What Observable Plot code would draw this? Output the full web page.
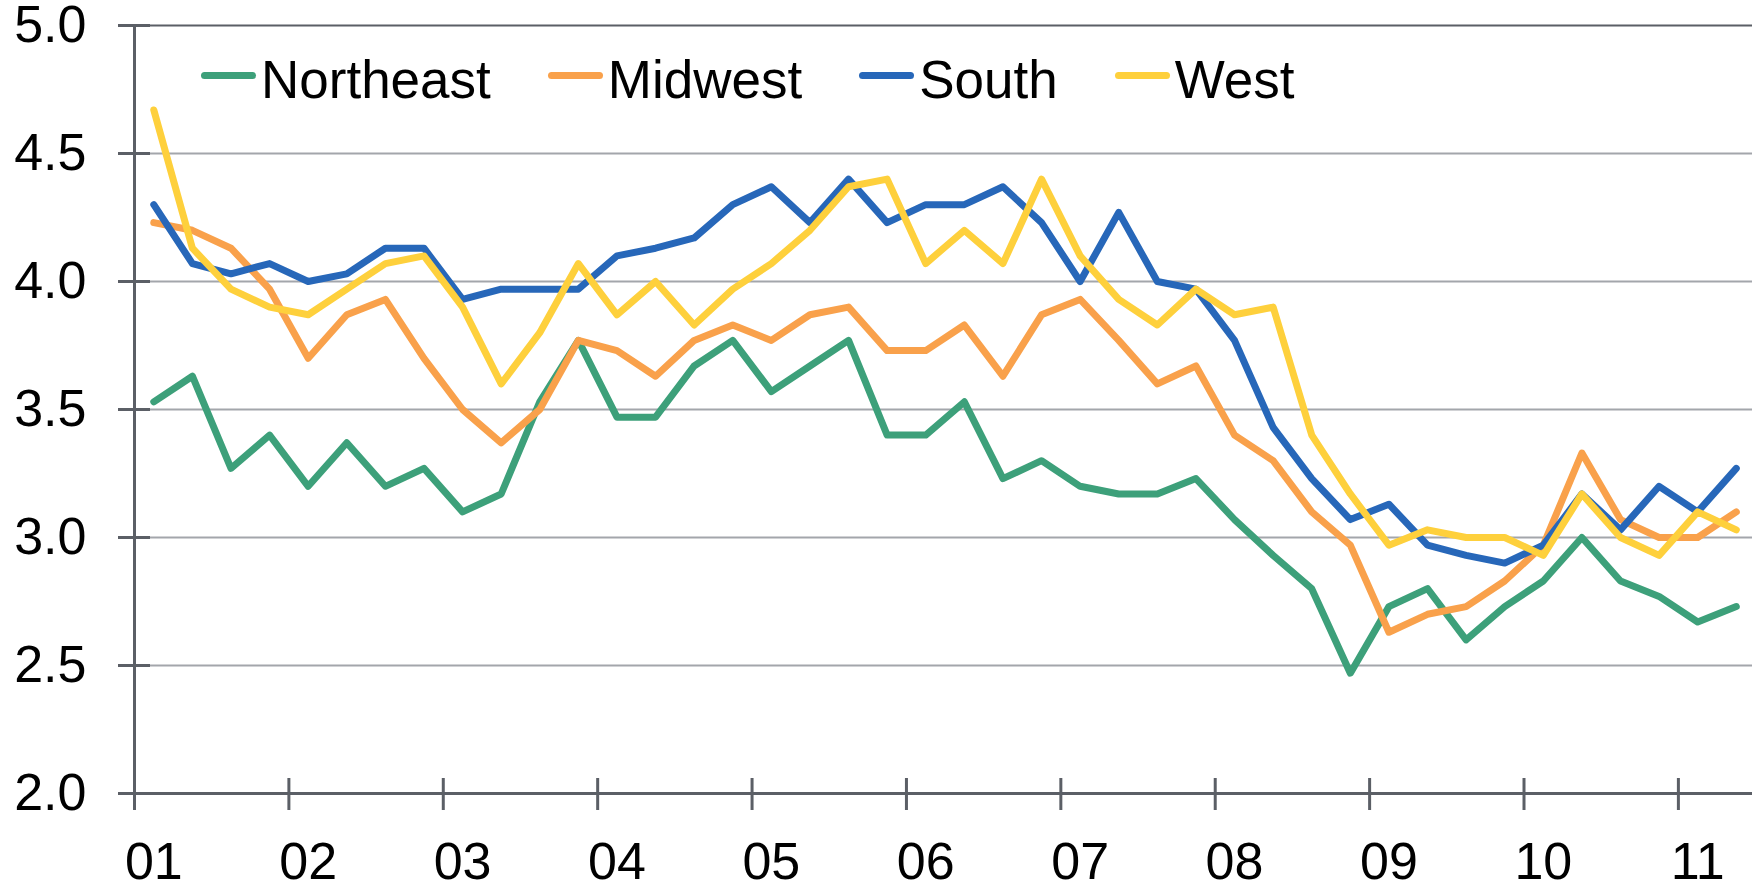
<!DOCTYPE html>
<html>
<head>
<meta charset="utf-8">
<script src="https://cdn.jsdelivr.net/npm/d3@7"></script>
<script src="https://cdn.jsdelivr.net/npm/@observablehq/plot@0.6"></script>
<style>
  html, body { margin: 0; padding: 0; background: #fff; }
  #wrap { position: relative; width: 1752px; height: 884px; font-family: "Liberation Sans", Arial, sans-serif; }
  #legend { position: absolute; left: 201px; top: 53px; display: flex; gap: 57px; font-size: 53px; line-height: 53px; color: #000; }
  .item { display: flex; align-items: flex-start; }
  .sw { width: 55px; height: 7px; border-radius: 3.5px; margin-top: 19px; margin-right: 5px; }
</style>
</head>
<body>
<div id="wrap"></div>
<script>
const regions = ["Northeast", "Midwest", "South", "West"];
const regionColors = ["#3DA07A", "#F9A14B", "#2767B9", "#FED03C"];

const quarters = [
  "2001Q1","2001Q2","2001Q3","2001Q4","2002Q1","2002Q2","2002Q3","2002Q4",
  "2003Q1","2003Q2","2003Q3","2003Q4","2004Q1","2004Q2","2004Q3","2004Q4",
  "2005Q1","2005Q2","2005Q3","2005Q4","2006Q1","2006Q2","2006Q3","2006Q4",
  "2007Q1","2007Q2","2007Q3","2007Q4","2008Q1","2008Q2","2008Q3","2008Q4",
  "2009Q1","2009Q2","2009Q3","2009Q4","2010Q1","2010Q2","2010Q3","2010Q4",
  "2011Q1","2011Q2"
];

const northeast = [3.53,3.63,3.27,3.40,3.20,3.37,3.20,3.27,3.10,3.17,
  3.53,3.77,3.47,3.47,3.67,3.77,3.57,3.67,3.77,3.40,3.40,
  3.53,3.23,3.30,3.20,3.17,3.17,3.23,3.07,2.93,2.80,
  2.47,2.73,2.80,2.60,2.73,2.83,3.00,2.83,2.77,2.67,2.73];
const midwest = [4.23,4.20,4.13,3.97,3.70,3.87,3.93,3.70,3.50,3.37,
  3.50,3.77,3.73,3.63,3.77,3.83,3.77,3.87,3.90,3.73,3.73,
  3.83,3.63,3.87,3.93,3.77,3.60,3.67,3.40,3.30,3.10,
  2.97,2.63,2.70,2.73,2.83,2.97,3.33,3.07,3.00,3.00,3.10];
const south = [4.30,4.07,4.03,4.07,4.00,4.03,4.13,4.13,3.93,3.97,
  3.97,3.97,4.10,4.13,4.17,4.30,4.37,4.23,4.40,4.23,4.30,
  4.30,4.37,4.23,4.00,4.27,4.00,3.97,3.77,3.43,3.23,
  3.07,3.13,2.97,2.93,2.90,2.97,3.17,3.03,3.20,3.10,3.27];
const west = [4.67,4.13,3.97,3.90,3.87,3.97,4.07,4.10,3.90,3.60,
  3.80,4.07,3.87,4.00,3.83,3.97,4.07,4.20,4.37,4.40,4.07,
  4.20,4.07,4.40,4.10,3.93,3.83,3.97,3.87,3.90,3.40,
  3.17,2.97,3.03,3.00,3.00,2.93,3.17,3.00,2.93,3.10,3.03];

const yearLabels = ["01","02","03","04","05","06","07","08","09","10","11"];
const yTicks = [2.0, 2.5, 3.0, 3.5, 4.0, 4.5, 5.0];

const seriesValues = [northeast, midwest, south, west];
const axisColor = "#5B5F66";
const gridColor = "#A3A6AB";

// quarter -> years since start of 2001, at mid-quarter
function qPos(q) {
  const yr = +q.slice(0, 4), n = +q.slice(5);
  return (yr - 2001) + (n - 1) / 4 + 0.125;
}

const data = [];
regions.forEach((r, k) => {
  seriesValues[k].forEach((v, i) => data.push({region: r, t: qPos(quarters[i]), value: v}));
});

const yearStarts = yearLabels.map((_, k) => k);
const labelPos = yearLabels.map((_, k) => k + 0.125);

const chart = Plot.plot({
  width: 1752,
  height: 884,
  marginLeft: 134,
  marginTop: 25,
  marginBottom: 91,
  marginRight: 0,
  style: {fontFamily: "'Liberation Sans', Arial, sans-serif", fontSize: "52px", color: "#000", background: "transparent"},
  x: {type: "linear", domain: [0, 10.48], label: null},
  y: {domain: [2, 5], label: null},
  color: {domain: regions, range: regionColors},
  marks: [
    Plot.ruleY(yTicks.filter(v => v > 2 && v < 5), {stroke: gridColor, strokeWidth: 2}),
    Plot.ruleY([5], {stroke: axisColor, strokeWidth: 2}),
    Plot.ruleY([2], {stroke: axisColor, strokeWidth: 3}),
    Plot.ruleX([0], {stroke: axisColor, strokeWidth: 3}),
    Plot.ruleY(yTicks, {y: d => d, x1: 0, x2: 0, insetLeft: -16, insetRight: -16, stroke: axisColor, strokeWidth: 3}),
    Plot.ruleX(yearStarts, {x: d => d, y1: 2, y2: 2, insetTop: -15, insetBottom: -17, stroke: axisColor, strokeWidth: 3}),
    Plot.line(data, {x: "t", y: "value", z: "region", stroke: "region", strokeWidth: 7, strokeLinejoin: "round", strokeLinecap: "round"}),
    Plot.axisY({ticks: yTicks, tickFormat: d => d.toFixed(1), tickSize: 0, tickPadding: 48, fontSize: 52, label: null}),
    Plot.axisX({ticks: labelPos, tickFormat: d => yearLabels[Math.round(d - 0.125)], tickSize: 0, tickPadding: 49, fontSize: 52, label: null})
  ]
});

const wrap = document.getElementById("wrap");
wrap.appendChild(chart);

const legend = document.createElement("div");
legend.id = "legend";
regions.forEach((r, k) => {
  const item = document.createElement("div");
  item.className = "item";
  const sw = document.createElement("div");
  sw.className = "sw";
  sw.style.background = regionColors[k];
  const label = document.createElement("span");
  label.textContent = r;
  item.appendChild(sw);
  item.appendChild(label);
  legend.appendChild(item);
});
wrap.appendChild(legend);
</script>
</body>
</html>
